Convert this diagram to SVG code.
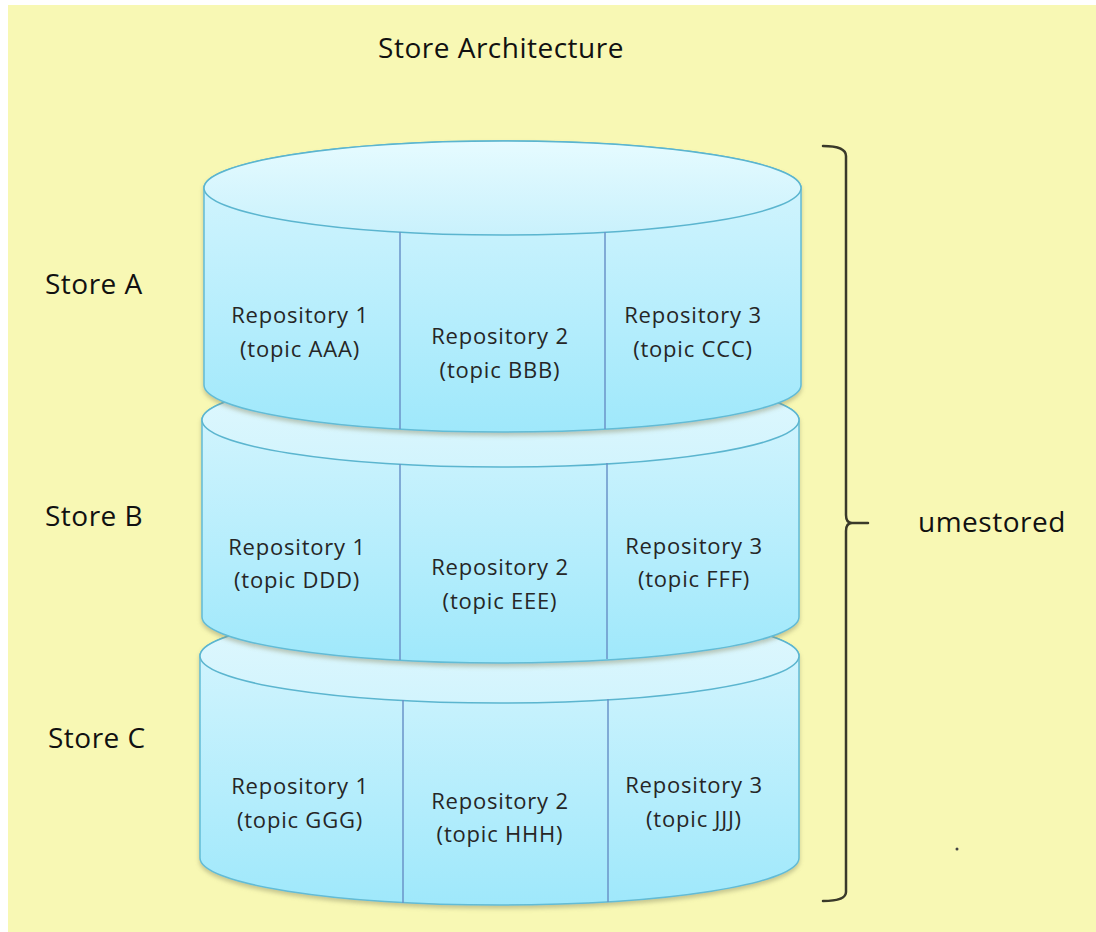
<svg xmlns="http://www.w3.org/2000/svg" width="1096" height="932" viewBox="0 0 1096 932">
<defs>
<linearGradient id="bodyA" x1="0" y1="0" x2="0" y2="1">
<stop offset="0" stop-color="#d9f6fe"/><stop offset="1" stop-color="#9fe8fb"/>
</linearGradient>
<linearGradient id="topA" x1="0" y1="0" x2="0" y2="1">
<stop offset="0" stop-color="#e6fbff"/><stop offset="1" stop-color="#c9f1fc"/>
</linearGradient>
<linearGradient id="topB" x1="0" y1="0" x2="0" y2="1">
<stop offset="0" stop-color="#e0f8fe"/><stop offset="1" stop-color="#d2f4fd"/>
</linearGradient>
<filter id="sh" x="-5%" y="-5%" width="110%" height="115%">
<feDropShadow dx="0" dy="3" stdDeviation="2" flood-color="#8a8a60" flood-opacity="0.45"/>
</filter>
</defs>
<style>
.body{stroke:#62bcd6;stroke-width:1.5}
.top{stroke:#5bb5cf;stroke-width:1.5}
.div{stroke:#6a93c8;stroke-width:1.5}
.repo{font-family:"Open Sans","Liberation Sans",sans-serif;font-size:22px;letter-spacing:0.8px;fill:#262626;text-anchor:middle}
.lbl{font-family:"Open Sans","Liberation Sans",sans-serif;font-size:28px;letter-spacing:0.5px;fill:#111}
.br{fill:none;stroke:#3a3a2a;stroke-width:2.5;stroke-linecap:round}
</style>
<rect width="1096" height="932" fill="#ffffff"/>
<rect x="8" y="5" width="1088" height="927" fill="#f8f8b4"/>
<text x="501" y="58" class="lbl" text-anchor="middle" font-size="27">Store Architecture</text>

<g id="storeC">
<path class="body" filter="url(#sh)" fill="url(#bodyA)" d="M200,656 A299.5,47 0 0 1 799,656 L799,858 A299.5,47 0 0 1 200,858 Z"/>
<ellipse class="top" cx="499.5" cy="656" rx="299.5" ry="47" fill="url(#topB)"/>
<line class="div" x1="403" y1="700" x2="403" y2="903"/>
<line class="div" x1="608" y1="699" x2="608" y2="902"/>
<text class="repo" x="300" y="794">Repository 1</text>
<text class="repo" x="300" y="828">(topic GGG)</text>
<text class="repo" x="500" y="809">Repository 2</text>
<text class="repo" x="500" y="842">(topic HHH)</text>
<text class="repo" x="694" y="793">Repository 3</text>
<text class="repo" x="694" y="827">(topic JJJ)</text>
</g>

<g id="storeB">
<path class="body" filter="url(#sh)" fill="url(#bodyA)" d="M202,420 A298.5,47 0 0 1 799,420 L799,617 A298.5,46 0 0 1 202,617 Z"/>
<ellipse class="top" cx="500.5" cy="420" rx="298.5" ry="47" fill="url(#topB)"/>
<line class="div" x1="400" y1="464" x2="400" y2="660"/>
<line class="div" x1="607" y1="463" x2="607" y2="659"/>
<text class="repo" x="297" y="555">Repository 1</text>
<text class="repo" x="297" y="588">(topic DDD)</text>
<text class="repo" x="500" y="575">Repository 2</text>
<text class="repo" x="500" y="609">(topic EEE)</text>
<text class="repo" x="694" y="554">Repository 3</text>
<text class="repo" x="694" y="587">(topic FFF)</text>
</g>

<g id="storeA">
<path class="body" filter="url(#sh)" fill="url(#bodyA)" d="M204,188 A298.5,47 0 0 1 801,188 L801,385 A298.5,47 0 0 1 204,385 Z"/>
<ellipse class="top" cx="502.5" cy="188" rx="298.5" ry="47" fill="url(#topA)"/>
<line class="div" x1="400" y1="232" x2="400" y2="429"/>
<line class="div" x1="605" y1="232" x2="605" y2="429"/>
<text class="repo" x="300" y="323">Repository 1</text>
<text class="repo" x="300" y="357">(topic AAA)</text>
<text class="repo" x="500" y="344">Repository 2</text>
<text class="repo" x="500" y="378">(topic BBB)</text>
<text class="repo" x="693" y="323">Repository 3</text>
<text class="repo" x="693" y="357">(topic CCC)</text>
</g>

<g id="labels">
<text class="lbl" x="45" y="294">Store A</text>
<text class="lbl" x="45" y="526">Store B</text>
<text class="lbl" x="48" y="748">Store C</text>
</g>

<g id="connectors">
<path class="br" d="M823,146 Q846,146 846,156 L846,515 Q846,523 852,523 L868,523 M852,523 Q846,523 846,531 L846,892 Q846,901 823,901"/>
</g>
<g id="umestored">
<text class="lbl" x="918" y="532">umestored</text>
</g>
<circle cx="957" cy="849" r="1.5" fill="#444"/>
</svg>
